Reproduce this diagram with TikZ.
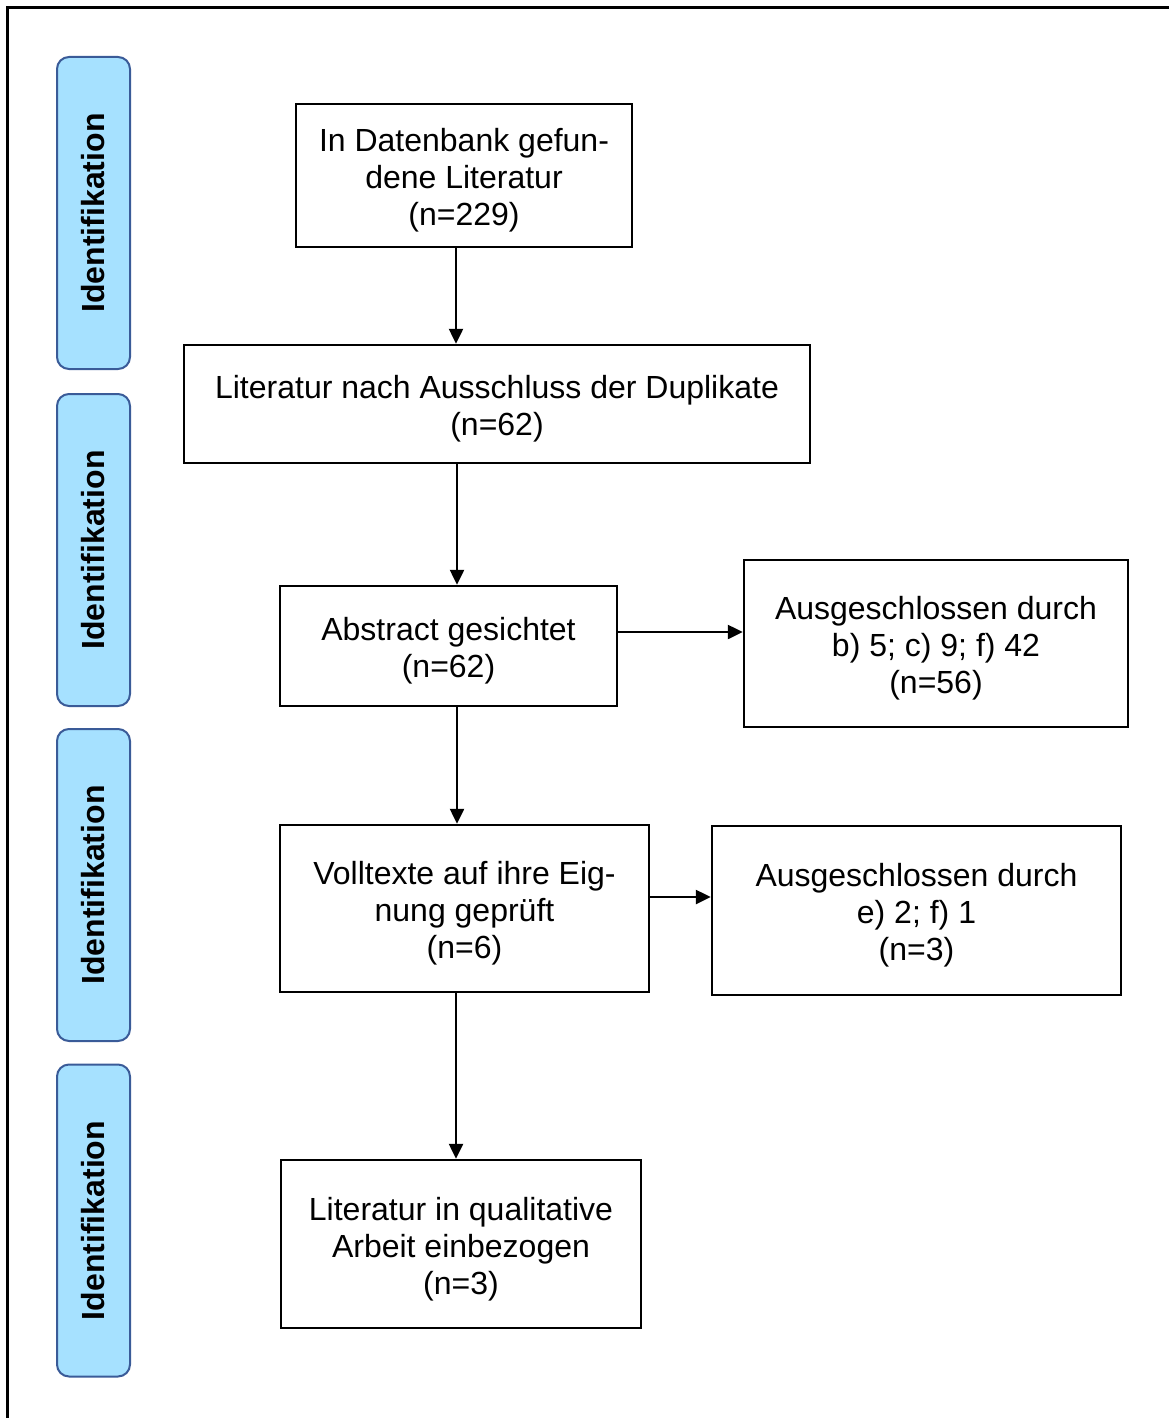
\documentclass[tikz,border=0pt]{standalone}
\usepackage{fontspec}
\setmainfont{Liberation Sans}
\usetikzlibrary{arrows.meta}
\definecolor{sidefill}{HTML}{A6E1FF}
\definecolor{sidedraw}{HTML}{3A5B98}
\begin{document}
\begin{tikzpicture}[x=1pt,y=-1pt,
  mainbox/.style={draw=black,line width=2.5pt,inner sep=0pt},
  boxtext/.style={align=center,inner sep=0pt,yshift=-5pt,
    font={\fontsize{32}{37}\selectfont}},
  sidebox/.style={draw=sidedraw,fill=sidefill,line width=2pt,rounded corners=12pt,
    rotate=90,minimum width=312pt,minimum height=73pt,inner sep=0pt,
    font={\bfseries\fontsize{32}{37}\selectfont}},
  conn/.style={line width=2.5pt,-{Triangle[length=15pt,width=14pt]}}]
\useasboundingbox (0,0) rectangle (1169,1418);
\draw[line width=3pt] (7,1418) -- (7,8) -- (1169,8);
% side labels
\node[sidebox] (s1) at (93.5,213) {Identifikation};
\node[sidebox] (s2) at (93.5,550) {Identifikation};
\node[sidebox] (s3) at (93.5,885) {Identifikation};
\node[sidebox] (s4) at (93.5,1220.5) {Identifikation};
% main boxes
\node[mainbox,minimum width=336pt,minimum height=143pt] (a) at (464,175.5) {};
\node[boxtext] (ta) at (a.center) {In Datenbank gefun-\\dene Literatur\\(n=229)};
\node[mainbox,minimum width=626pt,minimum height=118pt] (b) at (497,404) {};
\node[boxtext] (tb) at (b.center) {Literatur nach Ausschluss der Duplikate\\(n=62)};
\node[mainbox,minimum width=337pt,minimum height=120pt] (c) at (448.5,646) {};
\node[boxtext] (tc) at (c.center) {Abstract gesichtet\\(n=62)};
\node[mainbox,minimum width=384pt,minimum height=167pt] (d) at (936,643.5) {};
\node[boxtext] (td) at (d.center) {Ausgeschlossen durch\\b) 5; c) 9; f) 42\\(n=56)};
\node[mainbox,minimum width=369pt,minimum height=167pt] (e) at (464.5,908.5) {};
\node[boxtext] (te) at (e.center) {Volltexte auf ihre Eig-\\nung geprüft\\(n=6)};
\node[mainbox,minimum width=409pt,minimum height=169pt] (f) at (916.5,910.5) {};
\node[boxtext] (tf) at (f.center) {Ausgeschlossen durch\\e) 2; f) 1\\(n=3)};
\node[mainbox,minimum width=360pt,minimum height=168pt] (g) at (461,1244) {};
\node[boxtext] (tg) at (g.center) {Literatur in qualitative\\Arbeit einbezogen\\(n=3)};
% connectors
\draw[conn] (a.south -| 456,0) -- (b.north -| 456,0);
\draw[conn] (b.south -| 457,0) -- (c.north -| 457,0);
\draw[conn] (c.east |- 0,632) -- (d.west |- 0,632);
\draw[conn] (c.south -| 457,0) -- (e.north -| 457,0);
\draw[conn] (e.east |- 0,897) -- (f.west |- 0,897);
\draw[conn] (e.south -| 456,0) -- (g.north -| 456,0);
\end{tikzpicture}
\end{document}
